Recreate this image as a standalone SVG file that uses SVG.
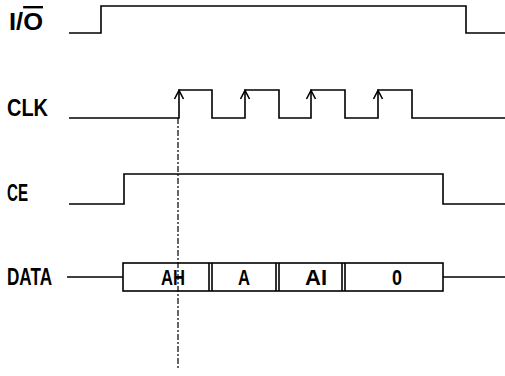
<svg xmlns="http://www.w3.org/2000/svg" width="505" height="376" viewBox="0 0 505 376">
<style>
.w{fill:none;stroke:#000;stroke-width:1.6;stroke-linejoin:miter}
.lbl{font-family:"Liberation Sans",Arial,sans-serif;font-weight:bold;font-size:24px;fill:#000}
.val{font-family:"Liberation Sans",Arial,sans-serif;font-weight:bold;font-size:22px;fill:#000;text-anchor:middle}
.dash{fill:none;stroke:#000;stroke-width:1.2;stroke-dasharray:6 2 2 2}
</style>
<rect width="505" height="376" fill="#fff"/>
<g id="label-io"><text class="lbl" x="9" y="30" textLength="34" lengthAdjust="spacingAndGlyphs">I/<tspan text-decoration="overline">O</tspan></text></g>
<g id="label-clk"><text class="lbl" x="7" y="116" textLength="41" lengthAdjust="spacingAndGlyphs">CLK</text></g>
<g id="label-ce"><text class="lbl" x="7" y="201" textLength="21" lengthAdjust="spacingAndGlyphs">CE</text></g>
<g id="label-data"><text class="lbl" x="7" y="285" textLength="45" lengthAdjust="spacingAndGlyphs">DATA</text></g>
<g id="connectors">
<path id="sig-io" class="w" d="M69,33 H101 V6 H466 V33 H505"/>
<path id="sig-clk" class="w" d="M69,118 H179 V90 H212 V118 H245 V90 H279 V118 H311 V90 H345 V118 H378 V90 H412 V118 H505"/>
<path class="w" d="M174.5,99 L179,90.5 L183.5,99 M240.5,99 L245,90.5 L249.5,99 M306.5,99 L311,90.5 L315.5,99 M373.5,99 L378,90.5 L382.5,99"/>
<path id="sig-ce" class="w" d="M69,204 H124 V174 H443 V204 H505"/>
<path id="sig-data" class="w" d="M67,277 H123 M443,277 H505"/>
<rect class="w" x="123" y="263" width="320" height="28"/>
<path class="w" d="M209,263 V291 M212,263 V291 M276,263 V291 M279,263 V291 M342,263 V291 M345,263 V291" stroke-width="1.3"/>
<path class="dash" d="M178,118 V370"/>
</g>
<g id="data-values">
<text class="val" x="173" y="285" textLength="24" lengthAdjust="spacingAndGlyphs">AH</text>
<text class="val" x="244" y="285" textLength="12" lengthAdjust="spacingAndGlyphs">A</text>
<text class="val" x="316" y="285" textLength="22" lengthAdjust="spacingAndGlyphs">AI</text>
<text class="val" x="397" y="285" textLength="10" lengthAdjust="spacingAndGlyphs">0</text>
</g>
</svg>
